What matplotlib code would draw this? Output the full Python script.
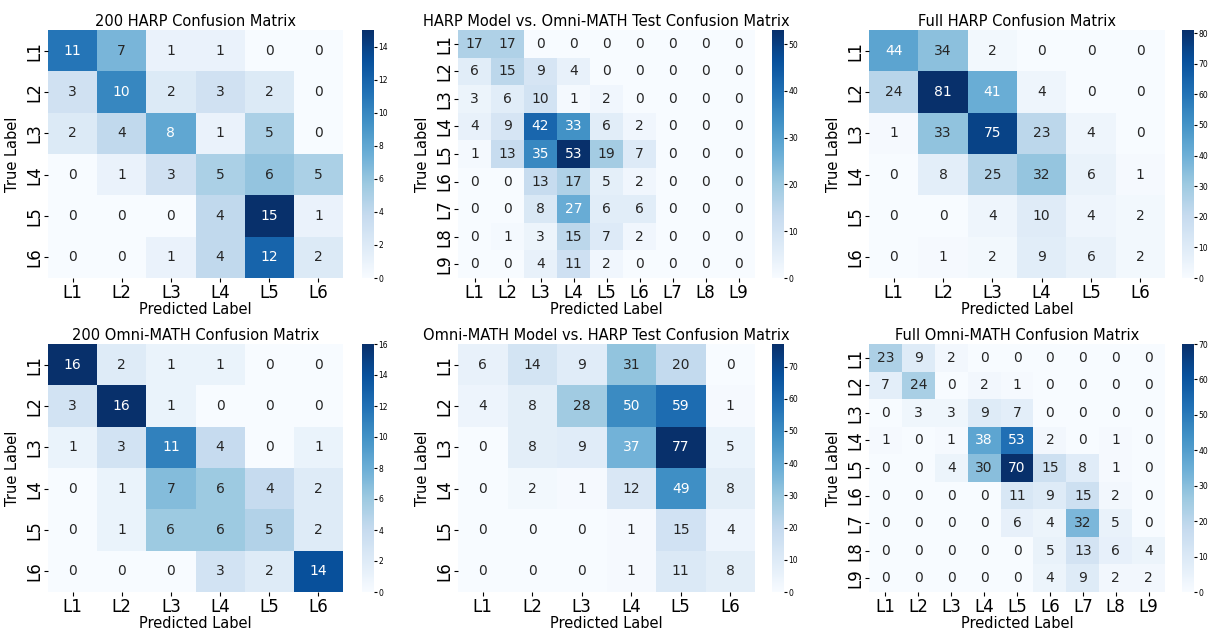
import numpy as np
import matplotlib
matplotlib.use("Agg")
import matplotlib.pyplot as plt
import seaborn as sns

# 标签
labels6 = ["L1", "L2", "L3", "L4", "L5", "L6"]
labels9 = ["L1", "L2", "L3", "L4", "L5", "L6", "L7", "L8", "L9"]

# 各个混淆矩阵数据
harp_200 = [
    [11, 7, 1, 1, 0, 0],
    [3, 10, 2, 3, 2, 0],
    [2, 4, 8, 1, 5, 0],
    [0, 1, 3, 5, 6, 5],
    [0, 0, 0, 4, 15, 1],
    [0, 0, 1, 4, 12, 2],
]
harp_vs_omni = [
    [17, 17, 0, 0, 0, 0, 0, 0, 0],
    [6, 15, 9, 4, 0, 0, 0, 0, 0],
    [3, 6, 10, 1, 2, 0, 0, 0, 0],
    [4, 9, 42, 33, 6, 2, 0, 0, 0],
    [1, 13, 35, 53, 19, 7, 0, 0, 0],
    [0, 0, 13, 17, 5, 2, 0, 0, 0],
    [0, 0, 8, 27, 6, 6, 0, 0, 0],
    [0, 1, 3, 15, 7, 2, 0, 0, 0],
    [0, 0, 4, 11, 2, 0, 0, 0, 0],
]
harp_full = [
    [44, 34, 2, 0, 0, 0],
    [24, 81, 41, 4, 0, 0],
    [1, 33, 75, 23, 4, 0],
    [0, 8, 25, 32, 6, 1],
    [0, 0, 4, 10, 4, 2],
    [0, 1, 2, 9, 6, 2],
]
omni_200 = [
    [16, 2, 1, 1, 0, 0],
    [3, 16, 1, 0, 0, 0],
    [1, 3, 11, 4, 0, 1],
    [0, 1, 7, 6, 4, 2],
    [0, 1, 6, 6, 5, 2],
    [0, 0, 0, 3, 2, 14],
]
omni_vs_harp = [
    [6, 14, 9, 31, 20, 0],
    [4, 8, 28, 50, 59, 1],
    [0, 8, 9, 37, 77, 5],
    [0, 2, 1, 12, 49, 8],
    [0, 0, 0, 1, 15, 4],
    [0, 0, 0, 1, 11, 8],
]
omni_full = [
    [23, 9, 2, 0, 0, 0, 0, 0, 0],
    [7, 24, 0, 2, 1, 0, 0, 0, 0],
    [0, 3, 3, 9, 7, 0, 0, 0, 0],
    [1, 0, 1, 38, 53, 2, 0, 1, 0],
    [0, 0, 4, 30, 70, 15, 8, 1, 0],
    [0, 0, 0, 0, 11, 9, 15, 2, 0],
    [0, 0, 0, 0, 6, 4, 32, 5, 0],
    [0, 0, 0, 0, 0, 5, 13, 6, 4],
    [0, 0, 0, 0, 0, 4, 9, 2, 2],
]

panels = [
    (harp_200, labels6, "200 HARP Confusion Matrix"),
    (harp_vs_omni, labels9, "HARP Model vs. Omni-MATH Test Confusion Matrix"),
    (harp_full, labels6, "Full HARP Confusion Matrix"),
    (omni_200, labels6, "200 Omni-MATH Confusion Matrix"),
    (omni_vs_harp, labels6, "Omni-MATH Model vs. HARP Test Confusion Matrix"),
    (omni_full, labels9, "Full Omni-MATH Confusion Matrix"),
]

W, H = 1218, 630
fig = plt.figure(figsize=(W / 100, H / 100), dpi=100)

# 每列热图的左边界、宽度，以及色条的左边界（像素）
col_x = [(48, 295, 362), (458, 297, 772), (869, 296, 1182)]
# 每行热图的上边界、下边界（像素）
row_y = [(30, 278), (344, 592)]

for i, (mat, labs, title) in enumerate(panels):
    r, c = divmod(i, 3)
    x0, w, cx = col_x[c]
    top, bot = row_y[r]
    ax = fig.add_axes([x0 / W, (H - bot) / H, w / W, (bot - top) / H])
    cax = fig.add_axes([cx / W, (H - bot) / H, 12 / W, (bot - top) / H])
    sns.heatmap(np.array(mat), annot=True, fmt="d", cmap="Blues", ax=ax,
                cbar_ax=cax, xticklabels=labs, yticklabels=labs,
                annot_kws={"fontsize": 10})
    ax.set_title(title, fontsize=10.5, pad=3)
    ax.set_xlabel("Predicted Label", fontsize=10.5, labelpad=0)
    ax.set_ylabel("True Label", fontsize=10.5, labelpad=4)
    ax.tick_params(axis="x", labelsize=12, pad=1, length=3)
    ax.tick_params(axis="y", labelsize=12, pad=0, length=3)
    plt.setp(ax.get_yticklabels(), rotation=90, va="center")
    plt.setp(ax.get_xticklabels(), rotation=0)
    cax.tick_params(labelsize=5.5, length=2, pad=1)

plt.savefig("out.png", dpi=100)
